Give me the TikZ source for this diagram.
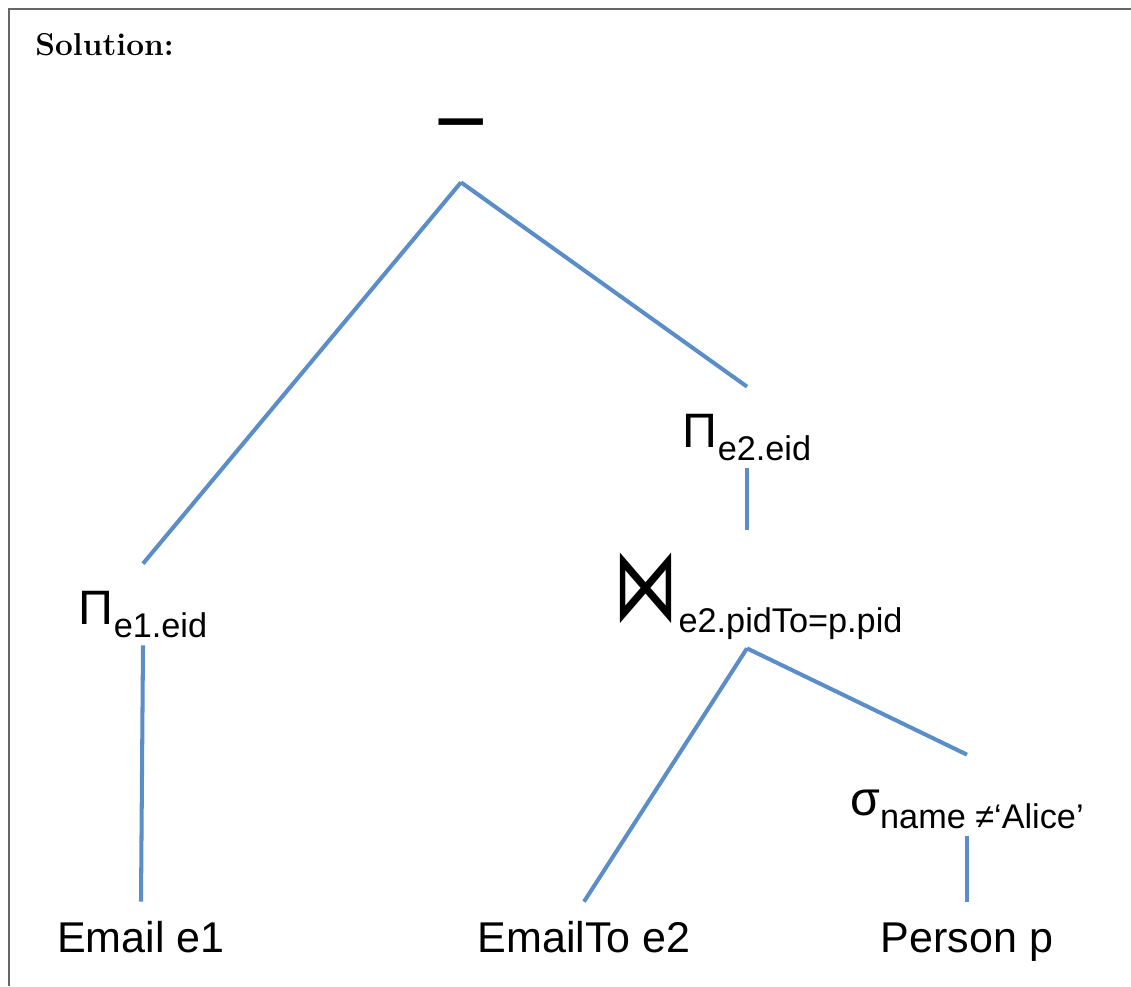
\documentclass[tikz,border=0pt]{standalone}
\usepackage{fontspec}
\usepackage{graphicx}
\newfontfamily\arialfont{Liberation Sans}
\newfontfamily\dejavufont{DejaVu Sans}
\definecolor{treeblue}{HTML}{5B8EC8}
\definecolor{framegray}{HTML}{666666}
\newcommand\opfont{\arialfont\fontsize{27.5}{33}\selectfont}
\newcommand\subfont{\arialfont\fontsize{19.5}{23}\selectfont}
\newcommand\leaffont{\arialfont\fontsize{24.5}{29}\selectfont}
\newcommand\opsub[2]{#1\raisebox{-0.26cm}{\subfont #2}}

\begin{document}
\begin{tikzpicture}[x=0.02cm,y=-0.02cm,
  op/.style={font=\opfont,inner sep=0pt,anchor=base,text height=1.2cm,text depth=0.42cm},
  leaf/.style={font=\leaffont,inner sep=0pt,anchor=base,text height=1.0cm,text depth=0pt},
  branch/.style={draw=treeblue,line width=2.3pt}]
\useasboundingbox (0,0) rectangle (1131,986);
\draw[framegray,line width=1.2pt] (9,986) -- (9,9) -- (1131,9);
\node[anchor=base west,inner sep=0pt,font=\bfseries\fontsize{18}{22}\selectfont] (title) at (35,56) {Solution:};

\node[op,text depth=0.58cm] (diff) at (461,153) {\fontsize{52}{60}\selectfont −};
\node[op] (pi1) at (143,624) {\opsub{Π}{e1.eid}};
\node[op] (pi2) at (747,447) {\opsub{Π}{e2.eid}};
% bowtie text sits right of the branch line, hence the left padding
\node[op,text height=1.8cm,text depth=0.56cm] (join) at (747,620)
  {\hspace{0.44cm}\resizebox{1.3cm}{1.35cm}{\dejavufont ⋈}\raisebox{-0.24cm}{\subfont e2.pidTo=p.pid}};
\node[op] (sel) at (967,815) {\opsub{σ}{name ≠‘Alice’}};
\node[leaf] (email) at (141,952) {Email e1};
\node[leaf] (emailto) at (584,952) {EmailTo e2};
\node[leaf] (person) at (967,952) {Person p};

\path[branch]
(diff.south) edge (pi1.north)
             edge (pi2.north)
(pi1.south) edge (email.north)
(pi2.south) edge (join.north)
(join.south) edge (emailto.north)
             edge (sel.north)
(sel.south) edge (person.north);
\end{tikzpicture}
\end{document}
